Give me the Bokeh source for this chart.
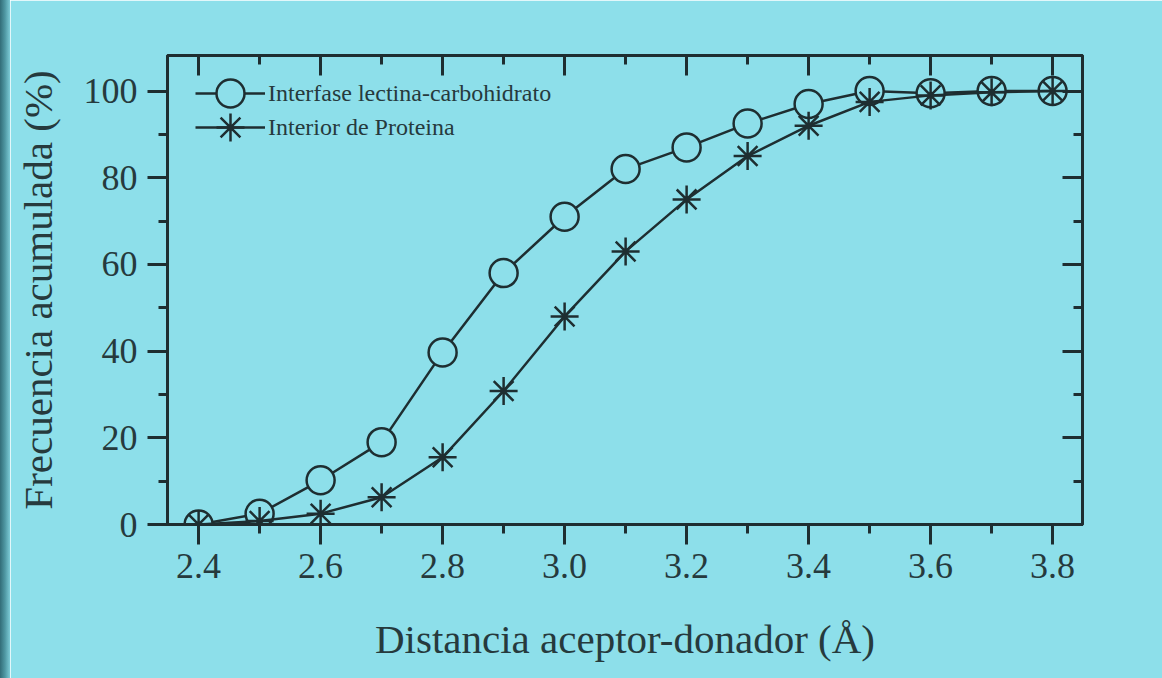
from bokeh.plotting import figure
from bokeh.layouts import row
from bokeh.models import Range1d, FixedTicker, LinearAxis, Legend, LegendItem, Div
from bokeh.embed import file_html
from bokeh.resources import INLINE

# ---- data ----
distancia = [2.4, 2.5, 2.6, 2.7, 2.8, 2.9, 3.0, 3.1, 3.2, 3.3, 3.4, 3.5, 3.6, 3.7, 3.8]
interfase = [0, 2.5, 10.2, 19, 39.7, 58, 71, 82, 87, 92.5, 97, 100, 99.5, 100, 100]
interior = [0, 0.8, 2.5, 6.3, 15.5, 30.8, 48, 63, 75, 85, 92, 97.5, 99, 99.7, 100]
x_ticks = [2.4, 2.6, 2.8, 3.0, 3.2, 3.4, 3.6, 3.8]
x_tick_labels = ["2.4", "2.6", "2.8", "3.0", "3.2", "3.4", "3.6", "3.8"]
x_minor = [2.4, 2.5, 2.6, 2.7, 2.8, 2.9, 3.0, 3.1, 3.2, 3.3, 3.4, 3.5, 3.6, 3.7, 3.8]
y_ticks = [0, 20, 40, 60, 80, 100]
y_minor = [0, 10, 20, 30, 40, 50, 60, 70, 80, 90, 100]
serie_names = ["Interfase lectina-carbohidrato", "Interior de Proteina"]
x_title = "Distancia aceptor-donador (Å)"
y_title = "Frecuencia acumulada (%)"

BG = "#8ddfea"
INK = "#1e2e31"
TXT = "#263a3d"
FONT = "Liberation Serif"

STRIP_W = 10

# narrow strip imitating the scan shadow on the left edge
strip = Div(text="", width=STRIP_W, height=678, margin=0,
            styles={"background": "linear-gradient(to right, #326d78, #4f98a3 50%, #7ccbd6)"})

p = figure(width=1162 - STRIP_W, height=678, output_backend="svg", toolbar_location=None,
           x_range=Range1d(2.349, 3.849), y_range=Range1d(0, 108.2),
           background_fill_color=BG, border_fill_color=BG,
           min_border_left=167 - STRIP_W, min_border_right=80, min_border_top=55, min_border_bottom=154)
p.grid.visible = False
p.outline_line_color = INK
p.outline_line_width = 3

xt = FixedTicker(ticks=x_ticks, minor_ticks=x_minor)
yt = FixedTicker(ticks=y_ticks, minor_ticks=y_minor)

def style(ax, ticker, show_labels, inside):
    ax.ticker = ticker
    ax.axis_line_color = INK
    ax.axis_line_width = 3
    ax.major_tick_line_color = INK
    ax.minor_tick_line_color = INK
    ax.major_tick_line_width = 3
    ax.minor_tick_line_width = 3
    if inside:
        ax.major_tick_in, ax.major_tick_out = 20, 0
        ax.minor_tick_in, ax.minor_tick_out = 9, 0
    else:
        ax.major_tick_in, ax.major_tick_out = 0, 20
        ax.minor_tick_in, ax.minor_tick_out = 0, 9
    if show_labels:
        ax.major_label_text_font = FONT
        ax.major_label_text_font_size = "36px"
        ax.major_label_text_color = TXT
        ax.axis_label_text_font = FONT
        ax.axis_label_text_font_size = "41px"
        ax.axis_label_text_font_style = "normal"
        ax.axis_label_text_color = TXT
    else:
        ax.major_label_text_color = None
        ax.major_label_text_font_size = "1px"
        ax.major_label_standoff = 0

style(p.xaxis[0], xt, True, False)
style(p.yaxis[0], yt, True, False)
p.xaxis[0].major_label_overrides = {v: s for v, s in zip(x_ticks, x_tick_labels)}
p.xaxis[0].major_label_standoff = 9
p.yaxis[0].major_label_standoff = 10
p.xaxis[0].axis_label = x_title
p.yaxis[0].axis_label = y_title
p.xaxis[0].axis_label_standoff = 35
p.yaxis[0].axis_label_standoff = 20

top_ax = LinearAxis()
right_ax = LinearAxis()
style(top_ax, xt, False, True)
style(right_ax, yt, False, True)
p.add_layout(top_ax, "above")
p.add_layout(right_ax, "right")

l1 = p.line(distancia, interfase, line_color=INK, line_width=2.5)
s1 = p.scatter(distancia, interfase, marker="circle", size=28, fill_color=BG, line_color=INK, line_width=2.5)
l2 = p.line(distancia, interior, line_color=INK, line_width=2.5)
s2 = p.scatter(distancia, interior, marker="asterisk", size=28, line_color=INK, line_width=2.5)

legend_style = dict(background_fill_alpha=0, border_line_alpha=0, padding=0, margin=0,
                    glyph_width=70, glyph_height=70, label_standoff=3,
                    label_text_font=FONT, label_text_font_size="24px", label_text_color=TXT)
legend1 = Legend(items=[LegendItem(label=serie_names[0], renderers=[l1, s1])],
                 location=(28, 396), **legend_style)
legend2 = Legend(items=[LegendItem(label=serie_names[1], renderers=[l2, s2])],
                 location=(28, 362), **legend_style)
p.add_layout(legend1, "center")
p.add_layout(legend2, "center")

layout = row(strip, p, spacing=0)
open("out.html", "w").write(file_html(layout, INLINE))
